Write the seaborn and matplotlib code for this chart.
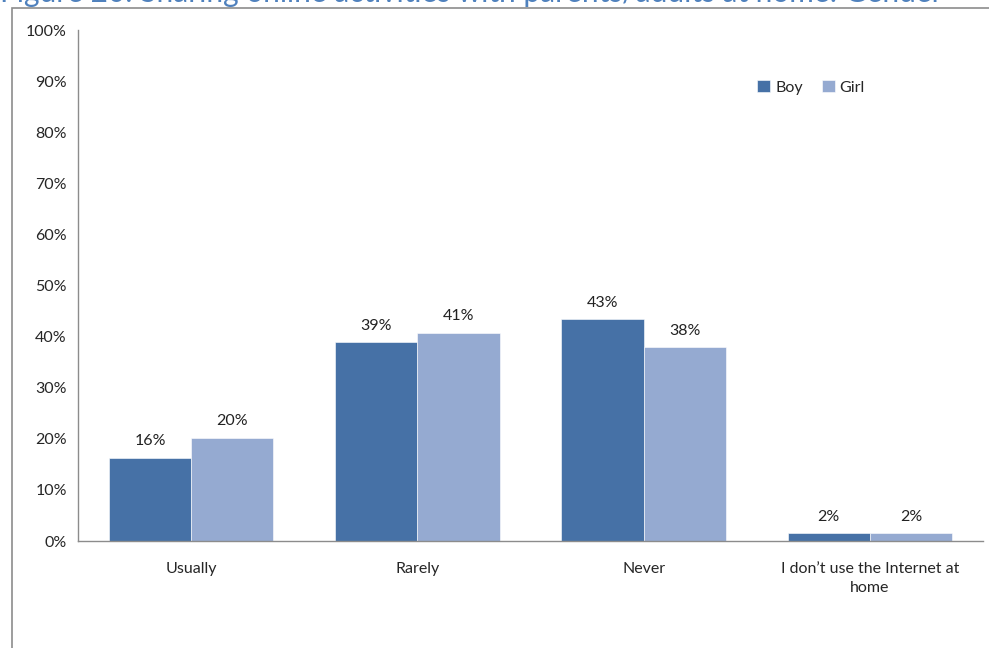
import pandas as pd
import seaborn as sns
import matplotlib.pyplot as plt
from matplotlib.patches import Rectangle

# Chart data
categories = ['Usually', 'Rarely', 'Never', 'I don\u2019t use the Internet at\nhome']
boy = [16.3, 38.9, 43.4, 1.5]
girl = [20.2, 40.7, 37.9, 1.5]
boy_labels = ['16%', '39%', '43%', '2%']
girl_labels = ['20%', '41%', '38%', '2%']
title = 'Figure 20: Sharing online activities with parents/adults at home: Gender'

df = pd.DataFrame({
    'Category': categories * 2,
    'Gender': ['Boy'] * len(categories) + ['Girl'] * len(categories),
    'Value': boy + girl,
})

sns.set_style('white')
plt.rcParams['font.family'] = ['Lato', 'DejaVu Sans']

fig = plt.figure(figsize=(9.89, 6.48), dpi=100)
ax = fig.add_axes([0.0789, 0.1651, 0.915, 0.7886])

sns.barplot(data=df, x='Category', y='Value', hue='Gender',
            palette=['#4671A6', '#95AAD1'], saturation=1, width=0.726, gap=0,
            edgecolor='white', linewidth=0.4, ax=ax)

# Value labels above bars
for cont, labs in zip(ax.containers, [boy_labels, girl_labels]):
    ax.bar_label(cont, labels=labs, padding=7, fontsize=11.5, color='#222222')

ax.set_ylim(0, 100)
ax.set_xlim(-0.5, len(categories) - 0.5)
ax.set_yticks(range(0, 101, 10))
ax.set_yticklabels([f'{v}%' for v in range(0, 101, 10)], fontsize=11.5)
ax.tick_params(axis='x', labelsize=11.5, length=0, pad=15)
ax.tick_params(axis='y', length=0, pad=8)
for lab in ax.get_xticklabels():
    lab.set_linespacing(1.45)
ax.set_xlabel('')
ax.set_ylabel('')
for s in ['top', 'right']:
    ax.spines[s].set_visible(False)
for s in ['left', 'bottom']:
    ax.spines[s].set_color('#8c8c8c')
    ax.spines[s].set_linewidth(1)

leg = ax.legend(loc='center', bbox_to_anchor=(0.81, 0.888), ncol=2, frameon=False,
                fontsize=11.5, handlelength=0.8, handleheight=0.8,
                columnspacing=1.2, handletextpad=0.3)

# Outer frame and title (clipped at the top edge, as in the source)
fig.patches.append(Rectangle((12 / 989, -0.1), 1.2, (648 - 8) / 648 + 0.1,
                             transform=fig.transFigure, fill=False,
                             edgecolor='#8c8c8c', linewidth=1.2))
fig.text(0.0, (648 - 2) / 648, title, fontsize=21.5, color='#4F81BD',
         va='baseline', ha='left')

fig.savefig('out.png', dpi=100)
